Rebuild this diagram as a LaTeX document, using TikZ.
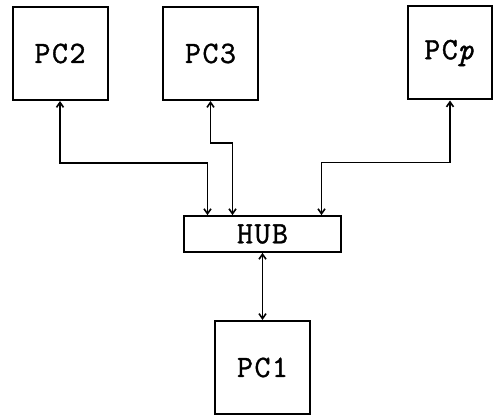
\documentclass[tikz,border=0pt]{standalone}
\usepackage{fontspec}
\newfontfamily\boxfont[FakeBold=1.2,LetterSpace=5]{Latin Modern Mono}
\usetikzlibrary{arrows.meta}
\begin{document}
\begin{tikzpicture}[x=1pt,y=-1pt,
  lbl/.style={font=\boxfont\fontsize{31}{31}\selectfont},
  pcbox/.style={draw,lbl,line width=2pt,minimum width=95pt,minimum height=93pt,inner sep=0pt},
  hubbox/.style={draw,lbl,line width=1.7pt,minimum width=157pt,minimum height=36pt,inner sep=0pt},
  link/.style={line width=1.6pt,{Straight Barb[length=5pt,width=7pt]}-{Straight Barb[length=5pt,width=7pt]}}]
\useasboundingbox (0,0) rectangle (493,417);
\node[pcbox] (pc2) at (60,53.5) {PC2};
\node[pcbox] (pc3) at (210.5,53.5) {PC3};
\node[pcbox,minimum width=84pt] (pcp) at (450,53) {PC\textit{p}};
\node[hubbox] (hub) at (262.5,234) {HUB};
\node[pcbox] (pc1) at (262.5,367.5) {PC1};
\coordinate (h2) at ([xshift=-55pt]hub.north);
\coordinate (h3) at ([xshift=-30pt]hub.north);
\coordinate (hp) at ([xshift=59pt]hub.north);
\draw[link] (pc2.south) -- ++(0,62) -| (h2);
\draw[link] (pc3.south) -- ++(0,42) -| (h3);
\draw[link] (pcp.south) -- ++(0,62) -| (hp);
\draw[link] (hub.south) -- (pc1.north);
\end{tikzpicture}
\end{document}
